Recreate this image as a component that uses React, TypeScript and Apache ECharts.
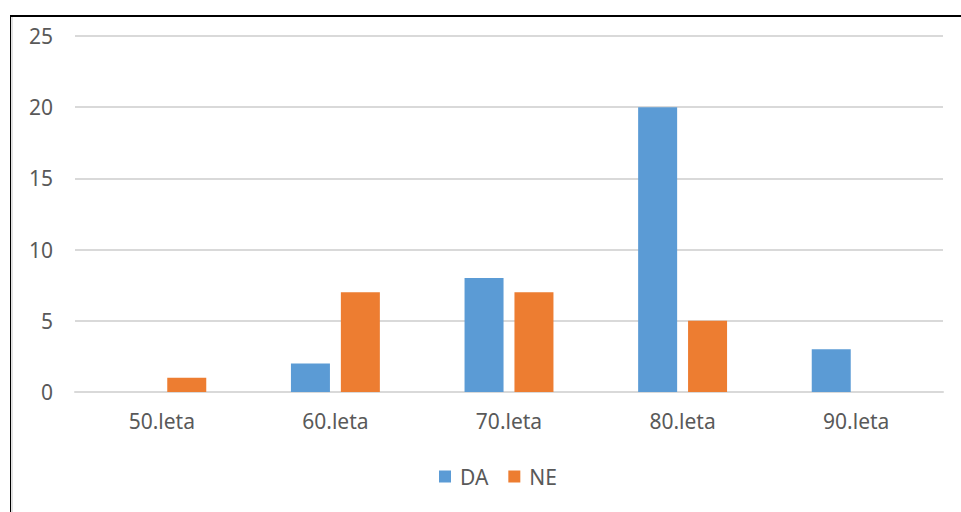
import React, { useEffect, useRef } from "react";
import * as echarts from "echarts";

const categories = ["50.leta", "60.leta", "70.leta", "80.leta", "90.leta"];
const daValues = [0, 2, 8, 20, 3];
const neValues = [1, 7, 7, 5, 0];
const seriesNames = ["DA", "NE"];

export default function App() {
  const ref = useRef<HTMLDivElement>(null);
  useEffect(() => {
    document.body.style.margin = "0";
    const chart = echarts.init(ref.current!, null, { renderer: "svg" });
    const font = "'Noto Sans', sans-serif";
    chart.setOption({
      animation: false,
      backgroundColor: "#ffffff",
      textStyle: { fontFamily: font },
      grid: { left: 75, right: 18, top: 36, bottom: 120 },
      legend: {
        data: seriesNames,
        top: 461,
        left: 434,
        itemWidth: 12,
        itemHeight: 12,
        itemGap: 20,
        icon: "rect",
        textStyle: { fontSize: 21, color: "#595959", fontFamily: font, padding: [0, 0, 0, 4] },
      },
      xAxis: {
        type: "category",
        data: categories,
        axisLine: { lineStyle: { color: "#d9d9d9", width: 2 } },
        axisTick: { show: false },
        axisLabel: { fontSize: 21, color: "#595959", margin: 18, fontFamily: font },
      },
      yAxis: {
        type: "value",
        min: 0,
        max: 25,
        interval: 5,
        axisLine: { show: false },
        axisTick: { show: false },
        splitLine: { lineStyle: { color: "#d9d9d9", width: 2 } },
        axisLabel: { fontSize: 21, color: "#595959", margin: 22, fontFamily: font },
      },
      series: [
        {
          name: seriesNames[0],
          type: "bar",
          data: daValues,
          barWidth: 39,
          barGap: "28%",
          itemStyle: { color: "#5B9BD5" },
        },
        {
          name: seriesNames[1],
          type: "bar",
          data: neValues,
          barWidth: 39,
          barGap: "28%",
          itemStyle: { color: "#ED7D31" },
        },
      ],
      graphic: [
        { type: "line", shape: { x1: 10, y1: 16, x2: 961, y2: 16 }, style: { stroke: "#000", lineWidth: 2 } },
        { type: "line", shape: { x1: 10.5, y1: 16, x2: 10.5, y2: 512 }, style: { stroke: "#000", lineWidth: 1 } },
        { type: "line", shape: { x1: 12, y1: 17, x2: 12, y2: 512 }, style: { stroke: "#d9d9d9", lineWidth: 1.5 } },
      ],
    });
    return () => chart.dispose();
  }, []);
  return <div ref={ref} style={{ width: 961, height: 512 }} />;
}
